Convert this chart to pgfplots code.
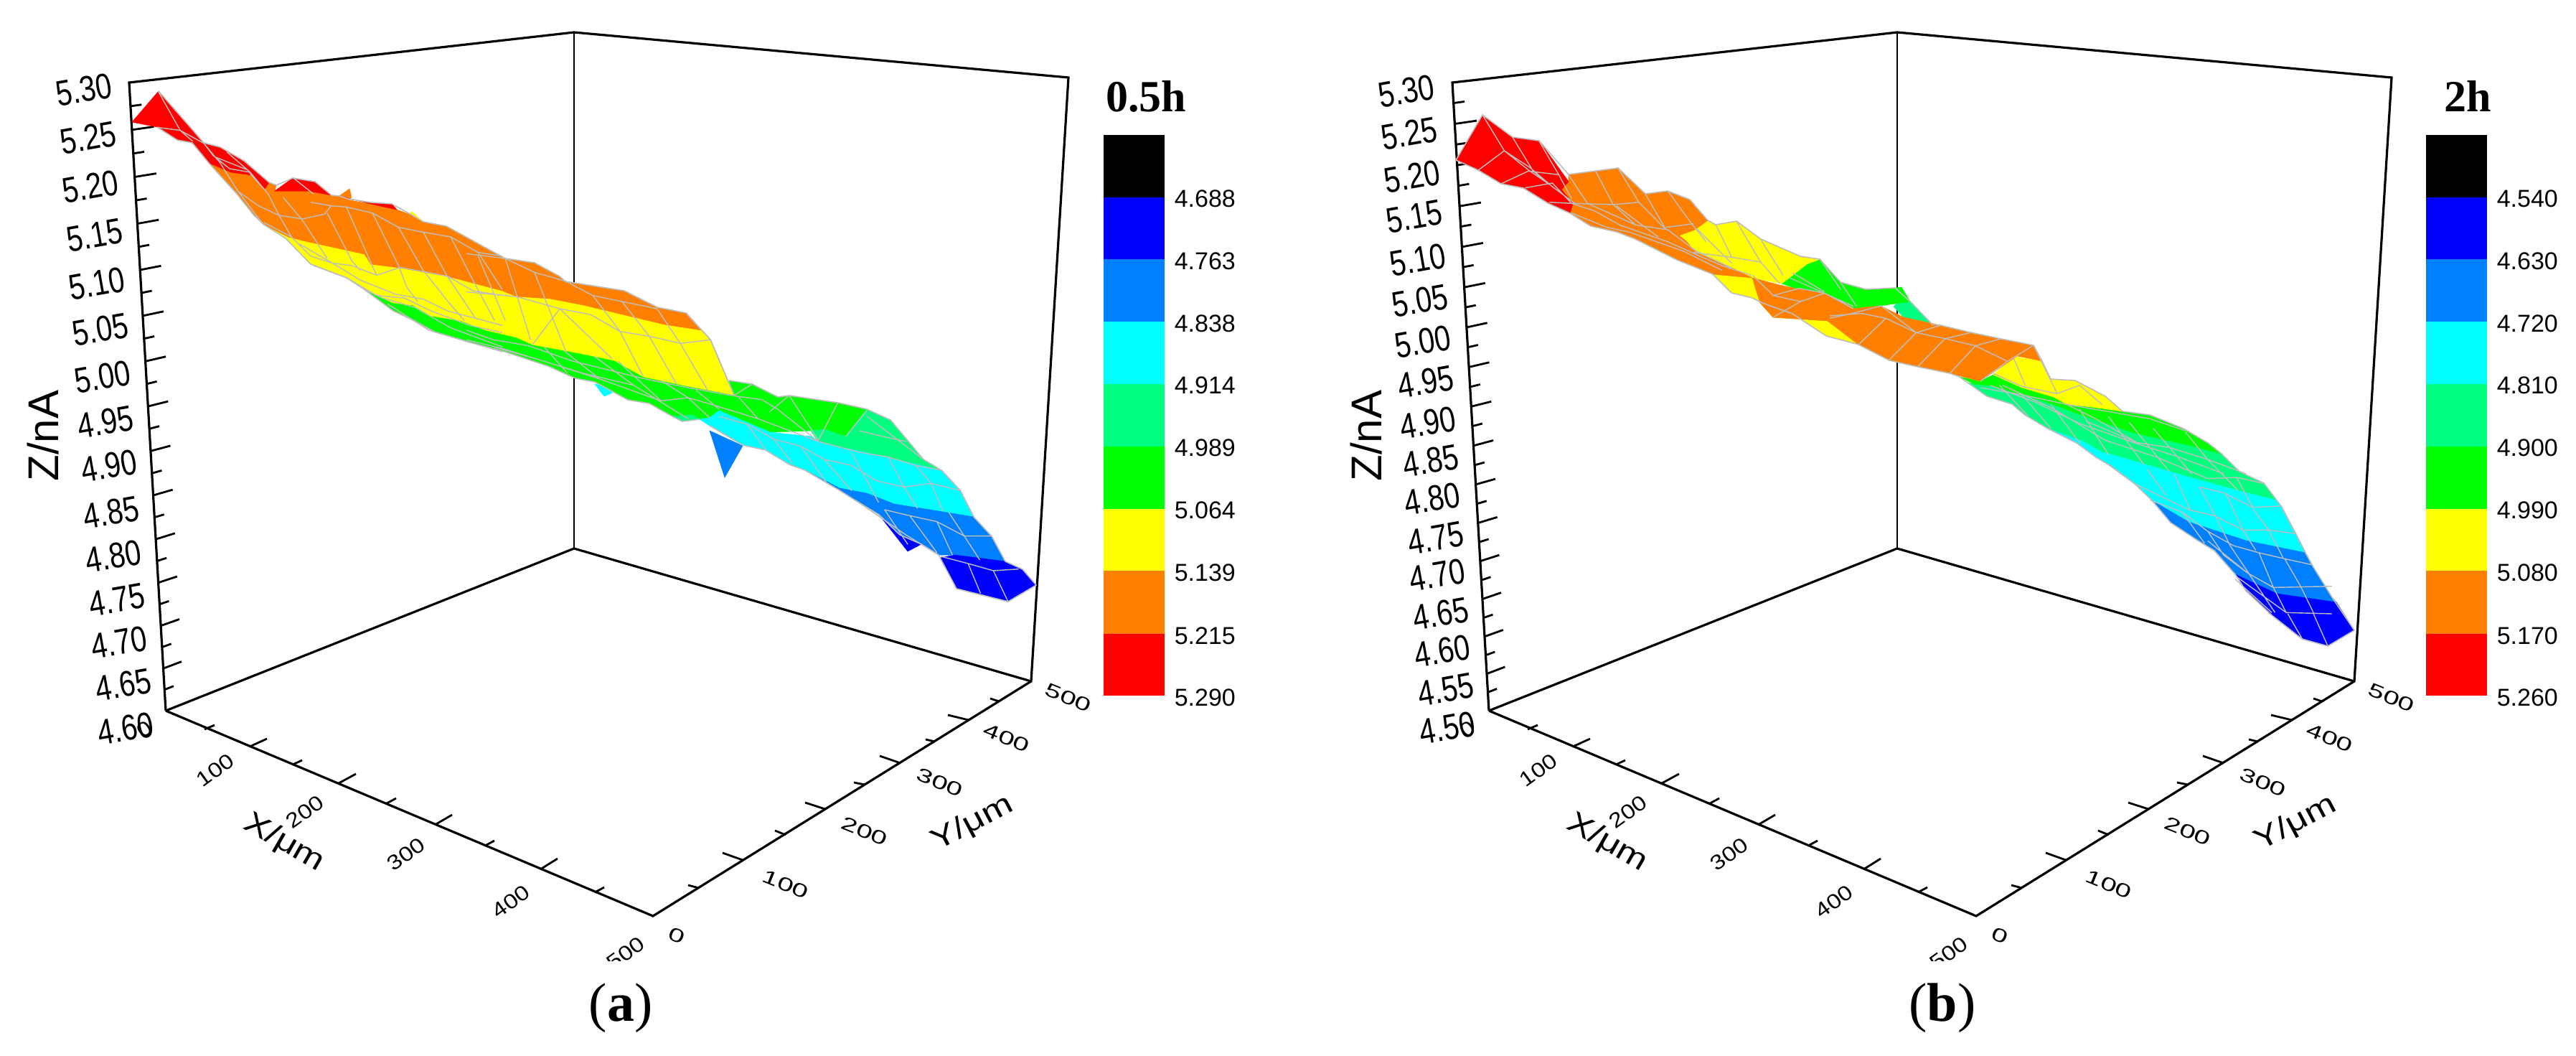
\documentclass[border=0pt]{standalone}
\usepackage{fontspec}
\usepackage{graphicx}
\usepackage{pgfplots}
\pgfplotsset{compat=1.18}
\setmainfont{Liberation Sans}
\newfontfamily\tnr{Liberation Serif}
\definecolor{cRed}{RGB}{255,0,0}
\definecolor{cOrg}{RGB}{255,128,0}
\definecolor{cYel}{RGB}{255,255,0}
\definecolor{cGrn}{RGB}{0,255,0}
\definecolor{cSpr}{RGB}{0,255,128}
\definecolor{cCya}{RGB}{0,255,255}
\definecolor{cAzu}{RGB}{0,128,255}
\definecolor{cBlu}{RGB}{0,0,255}
\definecolor{cMesh}{RGB}{190,190,190}
\pgfplotsset{
  band/.style={fill=#1,draw=#1,line width=0.15pt,forget plot},
  meshl/.style={no markers,color=cMesh,line width=0.35pt,empty line=jump,forget plot},
  sil/.style={no markers,color=cMesh,line width=0.4pt,forget plot},
  boxl/.style={no markers,color=black,line width=#1,forget plot},
}
\newcommand\Zticks[4]{%
  \foreach \k in {1,...,#2}{%
    \pgfmathsetmacro\yy{990-\k*(#3+#4*\k)}%
    \pgfmathsetmacro\xx{#1+180+(\yy-115)*0.0583}%
    \pgfmathsetmacro\tt{\k/(#2+1)}%
    \pgfmathsetmacro\ff{(mod(\k,2)==0)?1:0.5}%
    \pgfmathsetmacro\xe{\xx+\ff*(25+6*\tt)}%
    \pgfmathsetmacro\ye{\yy-\ff*(10-6*\tt)}%
    \edef\temp{\noexpand\draw[black,line width=0.7pt] (axis cs:\xx,\yy)--(axis cs:\xe,\ye);}\temp
  }}
\newcommand\Frame[1]{%
  \addplot[boxl=0.55pt] coordinates {(#1+800,45)(#1+800,764)};
  \addplot[boxl=0.8pt] coordinates {(#1+231,990)(#1+800,764)(#1+1437,949)};
  \addplot[boxl=0.8pt] coordinates {(#1+231,990)(#1+180,115)(#1+800,45)(#1+1489,108)(#1+1437,949)(#1+910,1276)(#1+231,990)};
  \foreach \xa/\ya/\dx/\dy in {285/1016/14/-6,348/1040/24/-11,408/1065/13/-6,472/1091/24/-13,539/1119/13/-7,606/1149/24/-14,676/1178/13/-7,753/1211/24/-15,829/1243/13/-7}{%
    \pgfmathsetmacro\xb{#1+\xa}\pgfmathsetmacro\xc{#1+\xa+\dx}\pgfmathsetmacro\yc{\ya+\dy}%
    \edef\temp{\noexpand\draw[black,line width=0.7pt] (axis cs:\xb,\ya)--(axis cs:\xc,\yc);}\temp}
  \foreach \xa/\ya/\dx/\dy in {974/1237/-15/-4,1035/1198/-28/-10,1095/1163/-15/-6,1150/1127/-28/-9,1205/1093/-15/-3,1255/1063/-29/-10,1303/1033/-13/-3,1350/1003/-29/-7,1392/977/-12/-4}{%
    \pgfmathsetmacro\xb{#1+\xa}\pgfmathsetmacro\xc{#1+\xa+\dx}\pgfmathsetmacro\yc{\ya+\dy}%
    \edef\temp{\noexpand\draw[black,line width=0.7pt] (axis cs:\xb,\ya)--(axis cs:\xc,\yc);}\temp}
}
\newcommand\XYlabels[1]{%
  \foreach \xa/\ya/\tx in {201/1016/0,300/1073/100,425/1131/200,566/1190/300,712/1256/400,872/1328/500}{%
    \pgfmathsetmacro\xb{#1+\xa}%
    \edef\temp{\noexpand\node[rotate=36,inner sep=0pt] at (axis cs:\xb,\ya) {\noexpand\fontsize{10pt}{10pt}\noexpand\selectfont\noexpand\scalebox{0.85}[0.72]{\tx}};}\temp}
  \foreach \xa/\ya/\tx in {943/1303/0,1095/1232/100,1205/1158/200,1310/1090/300,1403/1028/400,1489/972/500}{%
    \pgfmathsetmacro\xb{#1+\xa}%
    \edef\temp{\noexpand\node[rotate=-22,inner sep=0pt] at (axis cs:\xb,\ya) {\noexpand\fontsize{10pt}{10pt}\noexpand\selectfont\noexpand\scalebox{1}[0.66]{\tx}};}\temp}
  \pgfmathsetmacro\xb{#1+396}\pgfmathsetmacro\xc{#1+1355}\pgfmathsetmacro\xd{#1+60}%
  \edef\temp{\noexpand\node[rotate=-30,inner sep=0pt] at (axis cs:\xb,1174) {\noexpand\fontsize{13pt}{13pt}\noexpand\selectfont\noexpand\scalebox{1}[0.8]{X/μm}};}\temp
  \edef\temp{\noexpand\node[rotate=28,inner sep=0pt] at (axis cs:\xc,1147) {\noexpand\fontsize{13pt}{13pt}\noexpand\selectfont\noexpand\scalebox{1}[0.8]{Y/μm}};}\temp
  \edef\temp{\noexpand\node[rotate=90,inner sep=0pt] at (axis cs:\xd,607) {\noexpand\fontsize{15pt}{15pt}\noexpand\selectfont Z/nA};}\temp
  \pgfmathsetmacro\xb{#1+810}\pgfmathsetmacro\xc{#1+960}%
  \edef\temp{\noexpand\fill[white] (axis cs:\xb,1339) rectangle (axis cs:\xc,1368);}\temp
}
\newcommand\CBar[2]{%
  \pgfmathsetmacro\xb{#1+85}%
  \foreach \cc/\ya/\yb in {black/188/275,cBlu/275/361,cAzu/361/448,cCya/448/535,cSpr/535/622,cGrn/622/709,cYel/709/795,cOrg/795/883,cRed/883/969}{%
    \edef\temp{\noexpand\fill[\cc] (axis cs:#1,\ya) rectangle (axis cs:\xb,\yb);}\temp}
  \pgfmathsetmacro\xc{#1+98}%
  \foreach \ya/\tx in {#2}{%
    \edef\temp{\noexpand\node[anchor=west,inner sep=0pt] at (axis cs:\xc,\ya) {\noexpand\fontsize{8.5pt}{8.5pt}\noexpand\selectfont \tx};}\temp}
}
\begin{document}
\begin{tikzpicture}
\path[use as bounding box] (0,0) rectangle (897.5pt,367.5pt);
\begin{axis}[at={(0,0)},anchor=south west,scale only axis,width=897.5pt,height=367.5pt,
  xmin=0,xmax=3590,ymin=0,ymax=1470,y dir=reverse,hide axis,clip=true]

%%%%%%%%%%%%%%%%%%%%%%%% PANEL A %%%%%%%%%%%%%%%%%%%%%%%%
\Frame{0}
\Zticks{0}{27}{29.3}{0.07}
\addplot[band=cCya] coordinates {(829,535)(842,552)(853,547)(840,537)} --cycle;
\addplot[band=cAzu] coordinates {(989,600)(1035,621)(1010,665)} --cycle;
\addplot[band=cBlu] coordinates {(1225,717)(1265,768)(1284,758)(1254,745)} --cycle;
\addplot[band=cGrn] coordinates {(506,402)(548,422)(575,425)(601,440)(643,447)(700,463)(720,470)(742,480)(758,483)(807,492)(856,502)(897,525)(959,538)(1023,550)(1016,530)(1048,535)(1084,553)(1100,551)(1168,561)(1208,570)(1178,608)(1149,598)(1130,600)(1073,602)(1002,572)(989,582)(975,584)(951,587)(937,580)(905,562)(875,557)(829,532)(802,527)(764,510)(704,490)(655,477)(605,462)(578,447)(548,433)} --cycle;
\addplot[band=cSpr] coordinates {(937,580)(951,587)(975,584)(965,578)} --cycle;
\addplot[band=cSpr] coordinates {(1130,600)(1149,598)(1178,608)(1208,570)(1241,585)(1287,640)(1312,655)(1197,628)(1154,620)(1140,615)} --cycle;
\addplot[band=cCya] coordinates {(1002,572)(1073,602)(1130,608)(1140,615)(1154,620)(1197,628)(1312,655)(1338,683)(1357,720)(1314,713)(1246,702)(1208,687)(1170,680)(1122,655)(1100,647)(1067,627)(1035,620)(989,593)(975,584)(989,582)} --cycle;
\addplot[band=cAzu] coordinates {(1122,655)(1170,680)(1208,687)(1246,702)(1314,713)(1357,720)(1382,747)(1401,782)(1330,773)(1308,773)(1284,758)(1254,745)(1225,717)(1192,697)(1170,683)} --cycle;
\addplot[band=cBlu] coordinates {(1311,777)(1330,773)(1401,782)(1425,793)(1444,815)(1405,838)(1333,820)} --cycle;
\addplot[band=cYel] coordinates {(574,295)(590,309)(569,298)} --cycle;
\addplot[band=cYel] coordinates {(368,313)(402,330)(421,335)(508,354)(517,368)(557,373)(624,385)(700,405)(720,413)(767,416)(813,425)(926,452)(978,460)(990,473)(1013,527)(1023,550)(959,538)(897,525)(856,502)(807,492)(758,483)(742,480)(720,470)(677,460)(643,447)(601,440)(575,425)(548,422)(506,402)(483,387)(433,368)(398,332)} --cycle;
\addplot[band=cOrg] coordinates {(291,227)(330,270)(354,300)(368,313)(402,330)(421,335)(508,354)(517,368)(557,373)(624,385)(700,405)(720,413)(767,416)(813,425)(926,452)(978,460)(956,436)(916,428)(870,405)(788,392)(780,385)(745,366)(704,360)(622,315)(590,309)(575,300)(553,292)(521,285)(483,278)(490,275)(487,263)(473,273)(462,272)(430,266)(383,266)(385,258)(375,255)(369,263)(351,244)(322,240)} --cycle;
\addplot[band=cRed] coordinates {(184,170)(221,127)(265,177)(284,199)(307,205)(340,224)(375,254)(369,263)(351,244)(322,240)(291,227)(268,199)(247,195)(219,177)} --cycle;
\addplot[band=cRed] coordinates {(383,266)(408,248)(439,253)(462,272)(430,266)} --cycle;
\addplot[band=cRed] coordinates {(473,273)(485,277)(517,282)(546,284)(553,292)(521,285)} --cycle;
\addplot[sil] coordinates {(221,127)(265,177)(284,199)(307,205)(340,224)(375,254)(385,258)(408,248)(439,253)(462,272)(473,273)(485,277)(517,282)(546,284)(575,300)(590,309)(622,315)(704,360)(745,366)(780,385)(788,392)(870,405)(916,428)(956,436)(978,460)(990,473)(1013,527)(1023,550)};
\addplot[sil] coordinates {(219,177)(247,195)(268,199)(291,227)(330,270)(354,300)(368,313)(398,332)(433,368)(483,387)(506,402)(548,433)(578,447)(605,462)(655,477)(704,490)(764,510)(802,527)(829,532)(875,557)(905,562)(937,580)(951,587)(975,584)};
\addplot[sil] coordinates {(989,593)(1035,620)(1067,627)(1100,647)(1122,655)(1170,683)(1192,697)(1225,717)(1254,745)(1284,758)(1308,773)(1333,820)(1405,838)(1444,815)(1425,793)(1401,782)(1382,747)(1357,720)(1338,683)(1312,655)(1287,640)(1241,585)(1208,570)(1168,561)(1100,551)(1084,553)(1048,535)(1016,530)};
\addplot[meshl] table[x expr=100+\thisrowno{0}*0.3827,y expr=100+\thisrowno{1}/3] {
315 82
395 245
440 290

310 232
395 245
480 298
515 350
575 405
650 420
715 510

480 298
540 380
600 490
665 590
700 640

520 355
640 410
655 432
715 510
755 600
800 690

565 335
650 420

600 495
680 560
755 600
840 615
920 595
945 560
1000 565
1095 590
1190 650
1280 670
1380 690
1480 755
1568 770

870 545
945 560

700 630
800 690
870 770
950 800
1020 810
1110 850
1195 818
1280 835
1370 855
1460 915
1568 935

830 720
950 800
1050 870
1180 930
1280 950
1370 1000
1470 1030
1568 1060

880 810
1000 860
1110 935
1210 945
1310 1000
1450 1060
1568 1090

1060 905
1130 945
1250 985
1380 1070
1568 1150

1150 970
1300 1080
1450 1130
1568 1170

770 525
840 620
930 780

808 445
880 510

930 590
1020 790
1050 830

1000 565
1090 800
1110 850

1095 590
1190 810
1220 900
1260 960

1190 650
1280 830
1370 960
1430 1040

1280 670
1365 850
1470 1030

1380 690
1465 880
1540 1040

1480 755
1568 910
};
\addplot[meshl] table[x expr=650+\thisrowno{0}*0.542,y expr=350+\thisrowno{1}/3] {
0 10
100 30
175 88
255 125
325 185
400 210
490 240

0 170
35 175
130 190
240 240
320 265
395 335
470 355
550 385
628 370

30 20
100 290

100 30
165 370

175 88
255 415

240 240
170 390

240 240
375 450

325 185
395 335
455 525

400 210
470 355
540 555

490 240
550 385
620 580

565 258
628 370
688 600

0 330
70 370
160 395
275 460
450 530
570 570
690 605
760 620
800 660
905 795

0 370
100 410
220 470
345 535
500 625
570 612
640 645
750 700
905 795

70 400
180 450
300 510
430 560
520 650
570 700

625 695
570 612

735 555
690 600

830 603
780 670

830 603
905 790

955 633
905 790

1030 665
975 775

200 400
260 510

250 415
340 530

330 440
430 560

390 460
500 625

500 540
570 612

590 580
650 660

700 610
750 700

650 690
725 725
790 785
860 815
920 870
990 895
1055 960
1125 985
1195 970
1270 1000

905 795
1010 840
1085 860
1155 895
1222 915

1010 750
1060 770
1130 795

1030 690
1175 870

720 720
770 830

790 785
840 890

860 815
925 965

920 870
990 1000

990 840
1060 1050

1085 860
1125 985
1160 1075

1155 895
1195 970
1225 1085

1222 915
1270 1000
1305 1110

1075 1080
1140 1105
1210 1130
1280 1190
1350 1190

1000 1040
1130 1185
1215 1270

1075 1080
1135 1225

1140 1105
1210 1260

1210 1130
1250 1270

1240 1090
1280 1190
1320 1290

1220 1275
1290 1305
1355 1335
1420 1328

1290 1305
1322 1430

1355 1335
1393 1465
};
\foreach \xa/\ya/\tx in {117/125/5.30,123/192/5.25,126/260/5.20,132/328/5.15,135/395/5.10,140/459/5.05,143/525/5.00,147/588/4.95,152/649/4.90,155/714/4.85,158/775/4.80,163/836/4.75,166/895/4.70,172/954/4.65,175/1015/4.60}{%
  \edef\temp{\noexpand\node[rotate=10,inner sep=0pt] at (axis cs:\xa,\ya) {\noexpand\fontsize{12.5pt}{12.5pt}\noexpand\selectfont\noexpand\scalebox{0.8}[1]{\tx}};}\temp}
\XYlabels{0}
\CBar{1538}{277/4.688,364/4.763,451/4.838,537/4.914,624/4.989,711/5.064,798/5.139,886/5.215,972/5.290}
\node[inner sep=0pt] at (axis cs:1597,134) {\fontsize{15.5pt}{15.5pt}\selectfont\tnr\bfseries 0.5h};
\node[inner sep=0pt] at (axis cs:865,1404) {\fontsize{19pt}{19pt}\selectfont\tnr (\textbf{a})};

%%%%%%%%%%%%%%%%%%%%%%%% PANEL B %%%%%%%%%%%%%%%%%%%%%%%%
\Frame{1844}
\Zticks{1844}{31}{25.6}{0.055}
\addplot[band=cSpr] coordinates {(2639,427)(2655,412)(2693,452)(2653,442)} --cycle;
\addplot[band=cGrn] coordinates {(2483,395)(2518,368)(2536,361)(2565,393)(2600,403)(2641,401)(2650,400)(2662,420)(2640,423)(2621,426)(2600,428)(2583,430)(2543,408)(2503,402)} --cycle;
\addplot[band=cYel] coordinates {(2387,382)(2413,408)(2442,415)(2456,422)(2498,437)(2545,468)(2583,478)(2590,480)(2547,447)(2471,442)(2453,422)(2442,387)} --cycle;
\addplot[band=cYel] coordinates {(2340,328)(2362,320)(2380,307)(2391,313)(2420,308)(2454,333)(2509,357)(2536,361)(2518,368)(2483,395)(2442,387)(2413,373)(2364,352)(2349,335)} --cycle;
\addplot[band=cSpr] coordinates {(2742,533)(2751,535)(2773,537)(2813,548)(2858,562)(2898,577)(2974,603)(3050,620)(3096,632)(3121,657)(3155,673)(3173,697)(3117,683)(3041,662)(2956,637)(2929,630)(2903,615)(2854,597)(2822,578)(2804,563)(2769,552)} --cycle;
\addplot[band=cGrn] coordinates {(2731,525)(2760,531)(2778,522)(2818,540)(2862,553)(2880,563)(2916,567)(2958,573)(2996,578)(3043,597)(3077,617)(3096,632)(3050,620)(2974,603)(2898,577)(2858,562)(2813,548)(2773,537)(2751,535)} --cycle;
\addplot[band=cYel] coordinates {(2807,497)(2846,503)(2858,528)(2892,530)(2934,552)(2958,573)(2916,567)(2880,563)(2862,553)(2818,540)(2778,522)} --cycle;
\addplot[band=cCya] coordinates {(2822,578)(2854,597)(2903,615)(2929,630)(2956,637)(3041,662)(3117,683)(3173,697)(3179,705)(3199,743)(3213,770)(3130,753)(3050,727)(3021,710)(2999,697)(2974,673)(2938,647)(2921,637)(2894,617)(2854,597)} --cycle;
\addplot[band=cAzu] coordinates {(2999,697)(3021,710)(3050,727)(3130,753)(3213,770)(3224,790)(3250,832)(3256,839)(3173,827)(3115,800)(3086,767)(3063,753)(3025,728)} --cycle;
\addplot[band=cBlu] coordinates {(3115,800)(3173,827)(3256,839)(3281,878)(3244,900)(3208,890)(3166,857)(3130,823)} --cycle;
\addplot[band=cOrg] coordinates {(2442,387)(2480,397)(2503,402)(2543,408)(2585,430)(2600,428)(2621,426)(2653,442)(2704,453)(2746,463)(2789,472)(2834,481)(2846,503)(2822,498)(2811,496)(2760,531)(2717,520)(2673,511)(2633,502)(2590,480)(2547,447)(2471,442)(2453,422)} --cycle;
\addplot[band=cOrg] coordinates {(2186,243)(2255,234)(2293,270)(2324,266)(2355,278)(2380,307)(2362,320)(2340,328)(2349,335)(2364,352)(2413,373)(2442,387)(2387,382)(2337,362)(2279,333)(2253,323)(2217,315)(2188,297)(2192,283)(2176,264)(2186,253)} --cycle;
\addplot[band=cRed] coordinates {(2029,223)(2066,160)(2108,191)(2145,196)(2186,253)(2176,264)(2192,283)(2188,297)(2157,283)(2123,262)(2092,256)(2060,237)} --cycle;
\addplot[sil] coordinates {(2029,223)(2066,160)(2108,191)(2145,196)(2186,243)(2255,234)(2293,270)(2324,266)(2355,278)(2380,307)(2391,313)(2420,308)(2454,333)(2509,357)(2536,361)(2565,393)(2600,403)(2641,401)(2662,420)(2693,452)(2704,453)(2746,463)(2789,472)(2834,481)(2846,503)(2858,528)(2892,530)(2934,552)(2958,573)(2996,578)(3043,597)(3077,617)(3096,632)(3121,657)(3155,673)(3173,697)(3179,705)(3199,743)(3213,770)(3224,790)(3250,832)(3281,878)(3244,900)(3208,890)(3166,857)(3130,823)(3115,800)(3086,767)(3063,753)(3025,728)(2999,697)(2974,673)(2938,647)(2921,637)(2894,617)(2854,597)(2822,578)(2804,563)(2769,552)(2742,533)(2731,525)(2717,520)(2673,511)(2633,502)(2590,480)(2583,478)(2545,468)(2498,437)(2456,422)(2442,415)(2413,408)(2387,382)(2337,362)(2279,333)(2253,323)(2217,315)(2188,297)(2157,283)(2123,262)(2092,256)(2060,237)(2029,223)};
\addplot[meshl] table[x expr=1900+\thisrowno{0}*0.4464,y expr=120+\thisrowno{1}/3] {
372 120
440 270
520 355
580 410

465 212
530 355
590 420

548 228
610 370
650 470

358 352
440 270

430 408
515 355
610 370

505 425
590 405
650 490

440 270
520 340
590 420
660 490

580 485
650 490

640 370
700 490

725 355
780 495
850 580

795 342
860 485
945 600

880 450
945 600

950 437
1025 575
1070 650

650 490
780 495
860 485

945 590
1030 575

650 490
720 520
800 580
950 650
1050 710
1120 750
1210 790

650 530
760 590
830 610
1000 690
1120 770

700 490
850 580
950 600
1040 690
1150 760

790 500
920 630

1100 578
1150 715

1165 565
1240 735
1300 825

1240 640
1310 790

1030 695
1150 715
1240 735

1040 595
1150 740

1215 790
1280 875
1365 900
1440 865

1280 965
1365 900

1280 875
1360 845
1440 865

1440 865
1530 930

1340 780
1440 860

1330 800
1530 920

1425 722
1490 850

1490 820
1540 920
};
\addplot[meshl] table[x expr=2550+\thisrowno{0}*0.4464,y expr=420+\thisrowno{1}/3] {
0 70
70 50
160 18
270 130
360 155
455 185
555 250

0 60
100 50
175 70
270 130

175 70
90 180

270 130
185 245

360 155
275 272

455 185
375 300

555 250
470 333

637 182
555 250

345 100
270 130

440 130
360 155

535 155
455 185

575 240
610 350

637 185
710 385
780 350

710 385
600 355

510 300
600 355

780 350
850 430

470 360
600 390
740 430
830 490
960 590
1060 610
1180 660
1300 720

500 350
640 420
780 510
950 590
1090 650
1230 720

540 350
700 450
860 580
1020 650
1180 740
1270 735
1355 760

740 430
1000 490
1110 540

800 500
960 590

530 350
620 480

600 390
690 530

690 430
780 590

780 450
870 640

870 480
980 680

935 505
1060 710

1010 530
1130 720

1110 545
1180 660
1275 790

1270 735
1320 860

870 680
950 760
1120 870
1200 895
1290 955
1370 955
1455 970

1155 775
1230 800
1320 860
1405 855

990 700
1050 810

1075 720
1125 870

1155 775
1205 900
1250 1020

1235 800
1290 955
1330 1040

1320 865
1370 955
1415 1070

1410 855
1455 970
1505 1100

1000 830
1100 880
1180 960
1260 1020
1340 1050
1420 1075
1505 1100

1180 1000
1305 1135
1385 1195
1568 1190

1100 880
1170 1010

1180 960
1230 1060
1305 1135

1250 1020
1305 1130
1390 1300

1340 1050
1385 1195
1425 1300

1420 1075
1470 1190
1510 1300

1270 1150
1425 1300
1568 1305

1265 1160
1380 1300

1430 1305
1475 1410

1510 1305
1555 1440
};
\foreach \xa/\ya/\tx in {1960/127/5.30,1964/186/5.25,1968/246/5.20,1971/302/5.15,1976/362/5.10,1979/419/5.05,1983/476/5.00,1987/532/4.95,1990/589/4.90,1994/642/4.85,1996/695/4.80,2001/750/4.75,2003/801/4.70,2008/855/4.65,2010/907/4.60,2015/961/4.55,2017/1014/4.50}{%
  \edef\temp{\noexpand\node[rotate=10,inner sep=0pt] at (axis cs:\xa,\ya) {\noexpand\fontsize{12.5pt}{12.5pt}\noexpand\selectfont\noexpand\scalebox{0.8}[1]{\tx}};}\temp}
\XYlabels{1844}
\CBar{3381}{277/4.540,364/4.630,451/4.720,537/4.810,624/4.900,711/4.990,798/5.080,886/5.170,972/5.260}
\node[inner sep=0pt] at (axis cs:3439,134) {\fontsize{15.5pt}{15.5pt}\selectfont\tnr\bfseries 2h};
\node[inner sep=0pt] at (axis cs:2707,1404) {\fontsize{19pt}{19pt}\selectfont\tnr (\textbf{b})};
\end{axis}
\end{tikzpicture}
\end{document}
